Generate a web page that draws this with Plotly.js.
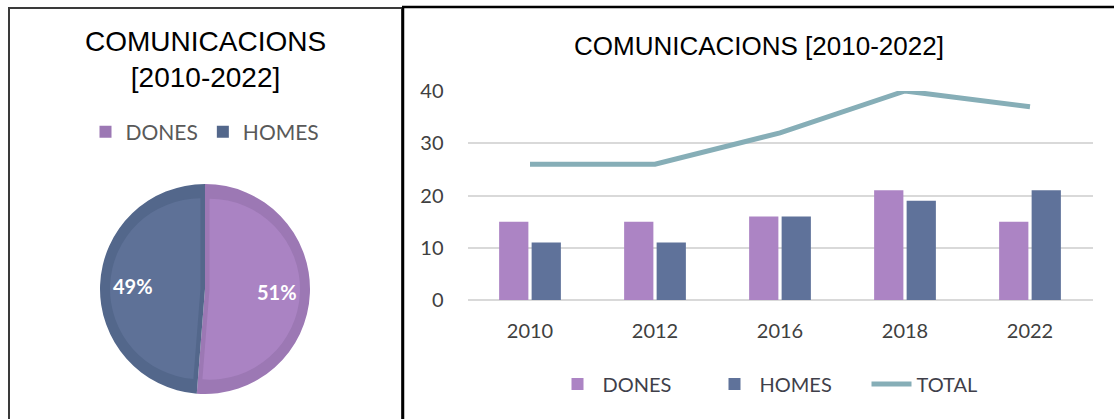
<!DOCTYPE html>
<html>
<head>
<meta charset="utf-8">
<script src="https://cdn.plot.ly/plotly-3.0.1.min.js"></script>
<style>
  html, body { margin: 0; padding: 0; background: #fff; }
  #chart { width: 1114px; height: 419px; }
</style>
</head>
<body>
<div id="chart"></div>
<script>
// data
var years = ['2010', '2012', '2016', '2018', '2022'];
var dones = [15, 15, 16, 21, 15];
var homes = [11, 11, 16, 19, 21];
var total = [26, 26, 32, 40, 37];
var pieLabels = ['DONES', 'HOMES'];

var W = 1114, H = 419;
function px(x) { return x / W; }
function py(y) { return 1 - y / H; }

function sum(a) { return a.reduce(function (s, v) { return s + v; }, 0); }
var pieValues = [sum(dones), sum(homes)];
var pieTotal = sum(pieValues);

var purple = '#AC84C4';
var blue = '#5F729A';

// pie geometry (pixels)
var pieCx = 205, pieCy = 289, pieR = 105;

// percentage labels placed along each slice's mid angle (clockwise from top)
var pieNotes = [];
var startFrac = 0;
pieValues.forEach(function (v) {
  var frac = v / pieTotal;
  var ang = (startFrac + frac / 2) * 2 * Math.PI;
  startFrac += frac;
  pieNotes.push({
    text: '<b>' + Math.round(frac * 100) + '%</b>',
    xref: 'paper', yref: 'paper',
    x: px(pieCx + 0.69 * pieR * Math.sin(ang)),
    y: py(pieCy - 0.69 * pieR * Math.cos(ang)),
    xanchor: 'center', yanchor: 'middle',
    showarrow: false,
    font: { family: 'Lato', size: 20, color: '#ffffff' }
  });
});

// pie: darker ring underneath, lighter slices pulled apart on top
var pieRing = {
  type: 'pie',
  labels: pieLabels,
  values: pieValues,
  sort: false,
  direction: 'clockwise',
  rotation: 0,
  marker: { colors: ['#9C78B4', '#53678B'], line: { width: 0 } },
  textinfo: 'none',
  hoverinfo: 'skip',
  legend: 'legend2',
  domain: { x: [px(pieCx - pieR), px(pieCx + pieR)], y: [py(pieCy + pieR), py(pieCy - pieR)] }
};

var pieInner = {
  type: 'pie',
  labels: pieLabels,
  values: pieValues,
  sort: false,
  direction: 'clockwise',
  rotation: 0,
  pull: [0.05, 0.05],
  marker: { colors: ['#AA83C3', '#5E7197'], line: { width: 0 } },
  textinfo: 'none',
  showlegend: false,
  hoverinfo: 'label+percent',
  domain: { x: [px(pieCx - pieR + 10), px(pieCx + pieR - 10)], y: [py(pieCy + pieR - 10), py(pieCy - pieR + 10)] }
};

var barDones = {
  type: 'bar',
  name: 'DONES',
  x: years,
  y: dones,
  marker: { color: purple },
  legend: 'legend'
};

var barHomes = {
  type: 'bar',
  name: 'HOMES',
  x: years,
  y: homes,
  marker: { color: blue },
  legend: 'legend'
};

var lineTotal = {
  type: 'scatter',
  mode: 'lines',
  name: 'TOTAL',
  x: years,
  y: total,
  line: { color: '#86AEB7', width: 5 },
  cliponaxis: false,
  legend: 'legend'
};

var layout = {
  width: W,
  height: H,
  margin: { l: 0, r: 0, t: 0, b: 0 },
  paper_bgcolor: '#ffffff',
  plot_bgcolor: '#ffffff',
  font: { family: 'Lato', color: '#404040' },
  barmode: 'group',
  bargap: 0.48,
  bargroupgap: 0.1,
  xaxis: {
    domain: [px(467.5), px(1092.5)],
    anchor: 'y',
    type: 'category',
    showgrid: false,
    showline: false,
    ticks: '',
    tickfont: { family: 'Lato', size: 20, color: '#404040' },
    ticklabelstandoff: 17
  },
  yaxis: {
    domain: [py(300), py(91)],
    anchor: 'x',
    range: [0, 40],
    dtick: 10,
    showgrid: true,
    gridcolor: '#D9D9D9',
    gridwidth: 1.5,
    zeroline: true,
    zerolinecolor: '#D9D9D9',
    zerolinewidth: 1.5,
    showline: false,
    ticks: '',
    tickfont: { family: 'Lato', size: 20, color: '#404040' },
    ticklabelstandoff: 23
  },
  legend: {
    orientation: 'h',
    x: px(788), xanchor: 'center',
    y: py(384), yanchor: 'middle',
    font: { family: 'Lato', size: 20, color: '#3F3F4A' },
    itemwidth: 40,
    entrywidth: 102,
    traceorder: 'normal'
  },
  legend2: {
    orientation: 'h',
    x: px(205), xanchor: 'center',
    y: py(132), yanchor: 'middle',
    font: { family: 'Lato', size: 21, color: '#595959' },
    itemwidth: 30
  },
  annotations: [
    {
      text: 'COMUNICACIONS<br>[2010-2022]',
      xref: 'paper', yref: 'paper',
      x: px(205), y: py(60),
      xanchor: 'center', yanchor: 'middle',
      showarrow: false,
      font: { family: 'Liberation Sans', size: 28, color: '#000000' }
    },
    {
      text: 'COMUNICACIONS [2010-2022]',
      xref: 'paper', yref: 'paper',
      x: px(759), y: py(46),
      xanchor: 'center', yanchor: 'middle',
      showarrow: false,
      font: { family: 'Liberation Sans', size: 26, color: '#000000' }
    }
  ].concat(pieNotes),
  shapes: [
    {
      type: 'rect', xref: 'paper', yref: 'paper',
      x0: px(9), x1: px(402), y0: py(430), y1: py(8),
      line: { color: '#3a3a3a', width: 2 }
    },
    {
      type: 'line', xref: 'paper', yref: 'paper',
      x0: px(402), x1: px(1120), y0: py(7), y1: py(7),
      line: { color: '#000000', width: 2.5 }
    },
    {
      type: 'line', xref: 'paper', yref: 'paper',
      x0: px(403), x1: px(403), y0: py(7), y1: py(430),
      line: { color: '#000000', width: 2.5 }
    }
  ]
};

Plotly.newPlot('chart', [pieRing, pieInner, barDones, barHomes, lineTotal], layout, {
  displayModeBar: false
});
</script>
</body>
</html>
